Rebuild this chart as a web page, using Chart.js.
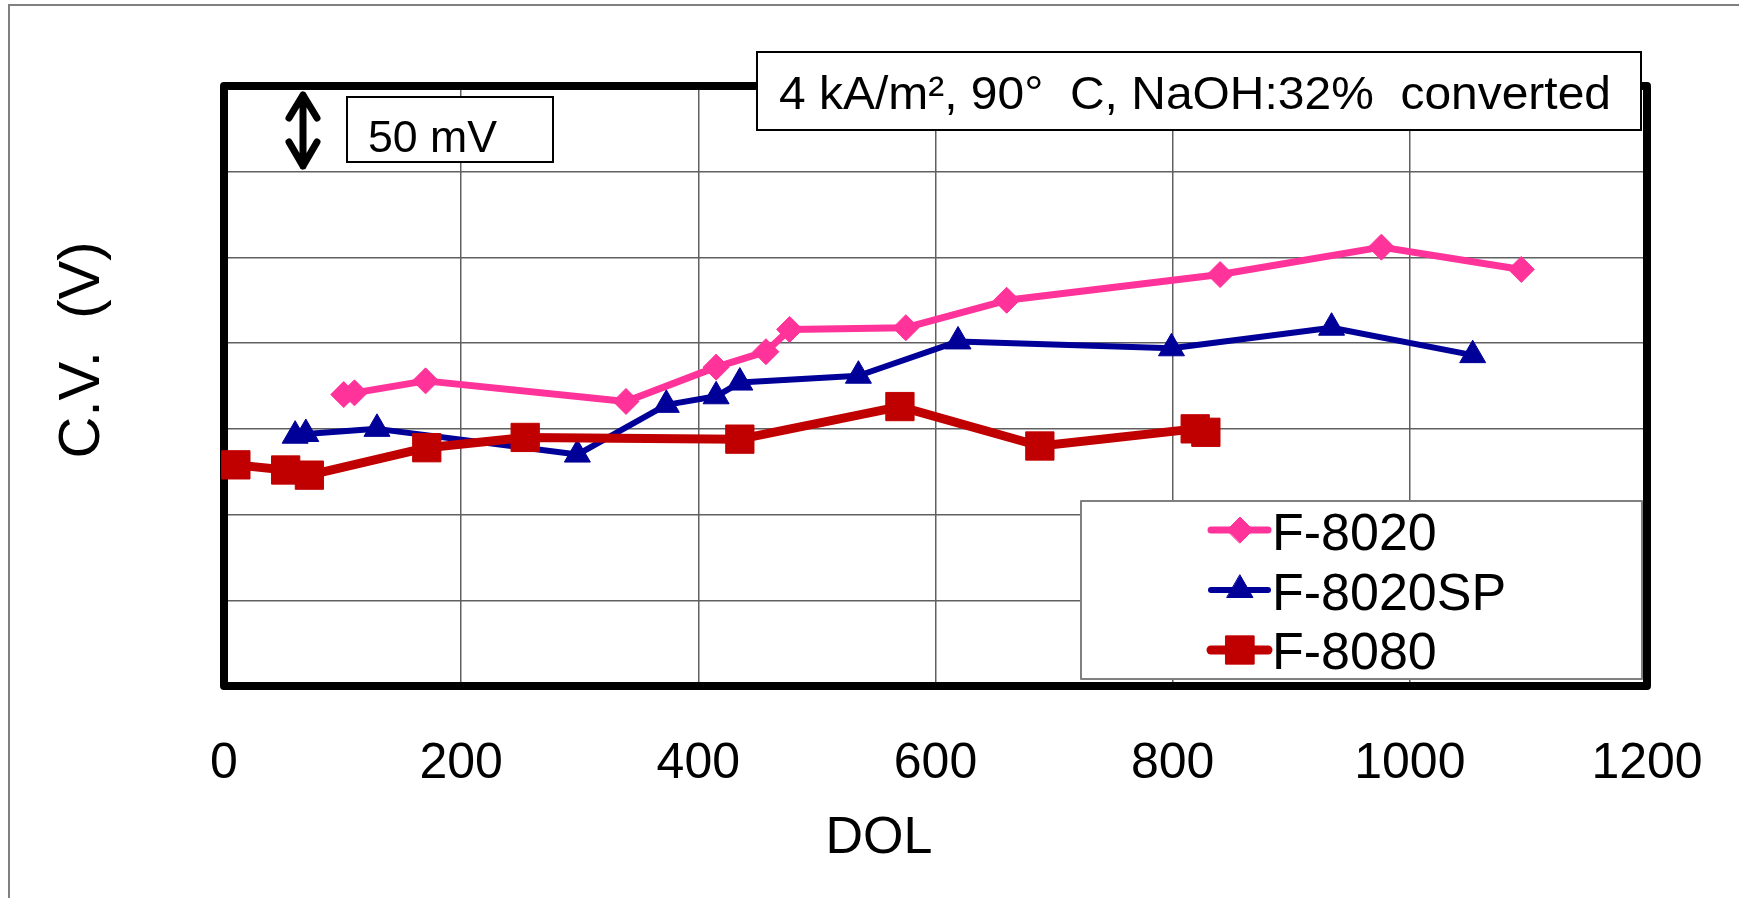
<!DOCTYPE html>
<html>
<head>
<meta charset="utf-8">
<script src="https://cdn.jsdelivr.net/npm/chart.js@4/dist/chart.umd.min.js"></script>
<style>
  html, body { margin: 0; padding: 0; background: #fff; }
  #wrap { width: 1739px; height: 898px; }
</style>
</head>
<body>
<div id="wrap"><canvas id="cvChart"></canvas></div>
<script>
// DOL (days on line) and cell voltage, read as mV above the lowest gridline
const dolF8020 = [101, 110, 170, 339, 415, 457, 477, 575, 660, 840, 976, 1094];
const mvF8020 = [170, 171, 178, 166, 186, 195, 208, 209, 225, 240, 256, 243];

const dolF8020SP = [60, 69, 129, 298, 373, 415, 435, 535, 619, 799, 934, 1053];
const mvF8020SP = [146, 147, 150, 135, 164, 169, 177, 181, 201, 197, 209, 193];

const dolF8080 = [10, 52, 72, 171, 254, 435, 570, 688, 819, 828];
const mvF8080 = [129, 126, 123, 139, 145, 144, 163, 140, 150, 148];

const seriesNames = ['F-8020', 'F-8020SP', 'F-8080'];
const xTicks = [0, 200, 400, 600, 800, 1000, 1200];
const yTicks = [0, 50, 100, 150, 200, 250, 300, 350];

const xTitle = 'DOL';
const yTitle = 'C.V.  (V)';
const condText = '4 kA/m\u00B2, 90\u00B0  C, NaOH:32%  converted';
const scaleText = '50 mV';

const FONT = '"Liberation Sans", Arial, sans-serif';

const toPts = (xs, ys) => xs.map((x, i) => ({ x: x, y: ys[i] }));

// frame, notes, legend drawn around the library's scales
const decorPlugin = {
  id: 'decor',
  beforeDraw(chart) {
    const ctx = chart.ctx;
    ctx.save();
    ctx.fillStyle = '#fff';
    ctx.fillRect(0, 0, chart.width, chart.height);
    ctx.strokeStyle = '#808080';
    ctx.lineWidth = 2;
    ctx.strokeRect(9, 5, chart.width + 20, chart.height + 20);
    ctx.restore();
  },
  beforeDatasetsDraw(chart) {
    const { ctx, chartArea: a } = chart;
    ctx.save();
    ctx.strokeStyle = '#000';
    ctx.lineWidth = 8;
    ctx.lineJoin = 'round';
    ctx.strokeRect(a.left, a.top, a.right - a.left, a.bottom - a.top);
    ctx.restore();
  },
  afterDatasetsDraw(chart) {
    const { ctx } = chart;
    ctx.save();

    // condition box
    ctx.fillStyle = '#fff';
    ctx.fillRect(757, 52, 884, 78);
    ctx.strokeStyle = '#000';
    ctx.lineWidth = 2;
    ctx.strokeRect(757, 52, 884, 78);
    ctx.fillStyle = '#000';
    ctx.font = '46px ' + FONT;
    ctx.textBaseline = 'alphabetic';
    ctx.textAlign = 'left';
    let w = ctx.measureText(condText).width;
    ctx.save();
    ctx.translate(779, 109);
    ctx.scale(832 / w, 1);
    ctx.fillText(condText, 0, 0);
    ctx.restore();

    // 50 mV scale box
    ctx.fillStyle = '#fff';
    ctx.fillRect(347, 97, 206, 65);
    ctx.strokeRect(347, 97, 206, 65);
    ctx.fillStyle = '#000';
    ctx.font = '44px ' + FONT;
    w = ctx.measureText(scaleText).width;
    ctx.save();
    ctx.translate(368, 152);
    ctx.scale(129 / w, 1);
    ctx.fillText(scaleText, 0, 0);
    ctx.restore();

    // double arrow = one gridline step
    ctx.strokeStyle = '#000';
    ctx.lineWidth = 7;
    ctx.lineCap = 'round';
    ctx.lineJoin = 'round';
    ctx.beginPath();
    ctx.moveTo(303, 95); ctx.lineTo(303, 166);
    ctx.moveTo(289, 118); ctx.lineTo(303, 95); ctx.lineTo(317, 118);
    ctx.moveTo(289, 142); ctx.lineTo(303, 166); ctx.lineTo(317, 142);
    ctx.stroke();

    // legend
    ctx.fillStyle = '#fff';
    ctx.fillRect(1081, 501, 561, 178);
    ctx.strokeStyle = '#808080';
    ctx.lineWidth = 2;
    ctx.strokeRect(1081, 501, 561, 178);
    const rows = [530, 590, 650];
    const bases = [550, 610, 669];
    chart.data.datasets.forEach((ds, i) => {
      const y = rows[i];
      ctx.strokeStyle = ds.borderColor;
      ctx.lineWidth = ds.borderWidth;
      ctx.lineCap = 'round';
      ctx.beginPath();
      ctx.moveTo(1211, y); ctx.lineTo(1268, y);
      ctx.stroke();
      ctx.fillStyle = ds.pointBackgroundColor;
      ctx.strokeStyle = ds.pointBorderColor;
      ctx.lineWidth = 1;
      Chart.helpers.drawPoint(ctx, {
        pointStyle: ds.pointStyle, radius: ds.pointRadius, rotation: 0, borderWidth: 1
      }, 1240, y);
      ctx.fillStyle = '#000';
      ctx.font = '52px ' + FONT;
      ctx.fillText(ds.label, 1272, bases[i]);
    });

    // axis titles
    ctx.fillStyle = '#000';
    ctx.font = '52px ' + FONT;
    ctx.textAlign = 'center';
    ctx.textBaseline = 'alphabetic';
    ctx.fillText(xTitle, 879, 853);
    ctx.save();
    ctx.translate(99, 350);
    ctx.rotate(-Math.PI / 2);
    ctx.font = '58px ' + FONT;
    ctx.fillText(yTitle, 0, 0);
    ctx.restore();

    ctx.restore();
  }
};

new Chart(document.getElementById('cvChart'), {
  type: 'line',
  data: {
    datasets: [
      {
        label: seriesNames[0],
        data: toPts(dolF8020, mvF8020),
        borderColor: '#FF3399',
        backgroundColor: '#FF3399',
        pointBackgroundColor: '#FF3399',
        pointBorderColor: '#FF3399',
        borderWidth: 7,
        pointStyle: 'rectRot',
        pointRadius: 13,
        pointBorderWidth: 1,
        order: 3
      },
      {
        label: seriesNames[1],
        data: toPts(dolF8020SP, mvF8020SP),
        borderColor: '#000099',
        backgroundColor: '#000099',
        pointBackgroundColor: '#000099',
        pointBorderColor: '#000099',
        borderWidth: 6,
        pointStyle: 'triangle',
        pointRadius: 15,
        pointBorderWidth: 1,
        order: 2
      },
      {
        label: seriesNames[2],
        data: toPts(dolF8080, mvF8080),
        borderColor: '#C00000',
        backgroundColor: '#C00000',
        pointBackgroundColor: '#C00000',
        pointBorderColor: '#C00000',
        borderWidth: 9,
        pointStyle: 'rect',
        pointRadius: 20,
        pointBorderWidth: 1,
        order: 1
      }
    ]
  },
  options: {
    responsive: true,
    maintainAspectRatio: false,
    animation: false,
    events: [],
    clip: false,
    layout: { padding: { left: 224, right: 92, top: 86, bottom: 0 } },
    plugins: {
      legend: { display: false },
      tooltip: { enabled: false },
      title: { display: false }
    },
    elements: { line: { tension: 0, borderJoinStyle: 'round', borderCapStyle: 'round' } },
    scales: {
      x: {
        type: 'linear',
        min: xTicks[0],
        max: xTicks[xTicks.length - 1],
        afterBuildTicks: s => { s.ticks = xTicks.map(v => ({ value: v })); },
        afterFit: s => {
          s.height = 898 - 686;
          s.paddingLeft = 0;
          s.paddingRight = 0;
        },
        border: { display: false },
        grid: { color: '#606060', lineWidth: 1.5, drawTicks: false },
        ticks: {
          color: '#000',
          padding: 48,
          maxRotation: 0,
          font: { family: FONT, size: 50 },
          callback: v => String(v)
        }
      },
      y: {
        type: 'linear',
        min: yTicks[0],
        max: yTicks[yTicks.length - 1],
        afterBuildTicks: s => { s.ticks = yTicks.map(v => ({ value: v })); },
        afterFit: s => {
          s.width = 0;
          s.paddingTop = 0;
          s.paddingBottom = 0;
        },
        border: { display: false },
        grid: { color: '#606060', lineWidth: 1.5, drawTicks: false },
        ticks: { display: false }
      }
    }
  },
  plugins: [decorPlugin]
});
</script>
</body>
</html>
